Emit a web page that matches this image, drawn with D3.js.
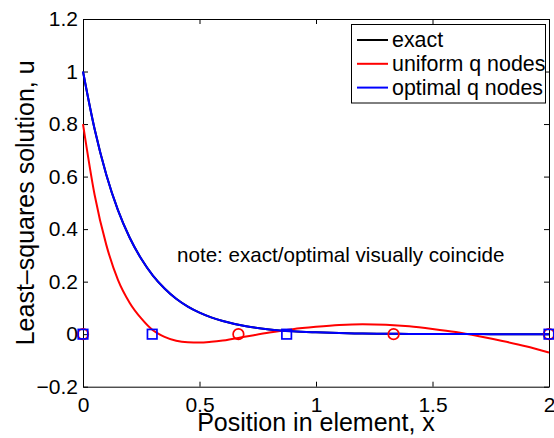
<!DOCTYPE html>
<html>
<head>
<meta charset="utf-8">
<script src="https://cdn.jsdelivr.net/npm/d3@7"></script>
<style>
  body { margin: 0; background: #fff; }
  text { font-family: "Liberation Sans", Arial, Helvetica, sans-serif; fill: #000; }
</style>
</head>
<body>
<div id="chart"></div>
<script>
// values
const xs = [0, 0.05, 0.1, 0.15, 0.2, 0.25, 0.3, 0.35, 0.4, 0.45, 0.5, 0.55, 0.6,
            0.7, 0.8, 0.9, 1.0, 1.1, 1.2, 1.3, 1.4, 1.5, 1.6, 1.7, 1.8, 1.9, 2.0];
const exact = [1.0, 0.78, 0.607, 0.472, 0.368, 0.287, 0.223, 0.174, 0.135, 0.105, 0.082, 0.064, 0.05,
               0.03, 0.018, 0.011, 0.007, 0.004, 0.0025, 0.0015, 0.001, 0.0005, 0.0003, 0.0002, 0.0001, 0, 0];
const optimal = [1.0, 0.78, 0.607, 0.472, 0.368, 0.287, 0.223, 0.174, 0.135, 0.105, 0.082, 0.064, 0.05,
                 0.03, 0.018, 0.011, 0.007, 0.004, 0.0025, 0.0015, 0.001, 0.0005, 0.0003, 0.0002, 0.0001, 0, 0];
const uniform = [0.8, 0.53, 0.34, 0.207, 0.12, 0.06, 0.015, -0.01, -0.025, -0.031, -0.032, -0.029, -0.024,
                 -0.009, 0.006, 0.019, 0.028, 0.035, 0.038, 0.036, 0.03, 0.02, 0.008, -0.008, -0.026, -0.046, -0.07];

const uniformNodes = [0, 0.667, 1.333, 2];
const optimalNodes = [0, 0.297, 0.874, 2];

const xTicks = [0, 0.5, 1, 1.5, 2];
const yTicks = [-0.2, 0, 0.2, 0.4, 0.6, 0.8, 1, 1.2];

const seriesNames = ["exact", "uniform q nodes", "optimal q nodes"];
const seriesColors = ["#000000", "#ff0000", "#0000ff"];

const width = 554, height = 438;
const margin = {left: 83, right: 5, top: 19, bottom: 51.3};

const svg = d3.select("#chart").append("svg")
    .attr("width", width)
    .attr("height", height);

const x = d3.scaleLinear().domain([0, 2]).range([margin.left, width - margin.right]);
const y = d3.scaleLinear().domain([-0.2, 1.2]).range([height - margin.bottom, margin.top]);

const fmt = d => (d < 0 ? "\u2212" : "") + String(Math.abs(Math.round(d * 10) / 10));

// axes with inward ticks (box on all four sides)
const tickLen = 5;
svg.append("g")
    .attr("transform", "translate(0," + y(-0.2) + ")")
    .call(d3.axisBottom(x).tickValues(xTicks).tickSizeInner(-tickLen).tickSizeOuter(0).tickPadding(10).tickFormat(fmt));
svg.append("g")
    .attr("transform", "translate(0," + y(1.2) + ")")
    .call(d3.axisTop(x).tickValues(xTicks).tickSizeInner(-tickLen).tickSizeOuter(0).tickFormat(""));
svg.append("g")
    .attr("transform", "translate(" + x(0) + ",0)")
    .call(d3.axisLeft(y).tickValues(yTicks).tickSizeInner(-tickLen).tickSizeOuter(0).tickPadding(5).tickFormat(fmt));
svg.append("g")
    .attr("transform", "translate(" + x(2) + ",0)")
    .call(d3.axisRight(y).tickValues(yTicks).tickSizeInner(-tickLen).tickSizeOuter(0).tickFormat(""));

svg.selectAll(".tick text").attr("font-size", 21).style("font-family", "Liberation Sans, Arial, sans-serif");
svg.selectAll(".domain, .tick line").attr("stroke", "#000").attr("stroke-width", 1);

// curves
const line = d3.line()
    .x((d, i) => x(xs[i]))
    .y(d => y(d))
    .curve(d3.curveMonotoneX);

const plotArea = svg.append("g");
[exact, uniform, optimal].forEach(function(vals, i) {
  plotArea.append("path")
      .datum(vals)
      .attr("fill", "none")
      .attr("stroke", seriesColors[i])
      .attr("stroke-width", 2)
      .attr("d", line);
});

// node markers
plotArea.selectAll("circle.node")
    .data(uniformNodes)
    .enter().append("circle")
    .attr("class", "node")
    .attr("cx", d => x(d))
    .attr("cy", y(0))
    .attr("r", 5.3)
    .attr("fill", "none")
    .attr("stroke", "#ff0000")
    .attr("stroke-width", 1.7);

const sq = 9.5;
plotArea.selectAll("rect.node")
    .data(optimalNodes)
    .enter().append("rect")
    .attr("class", "node")
    .attr("x", d => x(d) - sq / 2)
    .attr("y", y(0) - sq / 2)
    .attr("width", sq)
    .attr("height", sq)
    .attr("fill", "none")
    .attr("stroke", "#0000ff")
    .attr("stroke-width", 1.7);

// legend
const legend = svg.append("g");
legend.append("rect")
    .attr("x", 351.5).attr("y", 24.5)
    .attr("width", 194).attr("height", 78.5)
    .attr("fill", "#fff").attr("stroke", "#000").attr("stroke-width", 1);
seriesNames.forEach(function(name, i) {
  const ly = 40 + i * 23.8;
  legend.append("line")
      .attr("x1", 357).attr("x2", 388)
      .attr("y1", ly).attr("y2", ly)
      .attr("stroke", seriesColors[i]).attr("stroke-width", 2);
  legend.append("text")
      .attr("x", 392).attr("y", ly)
      .attr("dy", "0.35em")
      .attr("font-size", 21.4)
      .text(name);
});

// note
svg.append("text")
    .attr("x", 177).attr("y", 262)
    .attr("font-size", 20.6)
    .text("note: exact/optimal visually coincide");

// axis labels
svg.append("text")
    .attr("x", (x(0) + x(2)) / 2).attr("y", 431)
    .attr("text-anchor", "middle")
    .attr("font-size", 25)
    .text("Position in element, x");

svg.append("text")
    .attr("transform", "translate(34," + (y(0.5)) + ") rotate(-90)")
    .attr("text-anchor", "middle")
    .attr("font-size", 25)
    .text("Least\u2013squares solution, u");
</script>
</body>
</html>
